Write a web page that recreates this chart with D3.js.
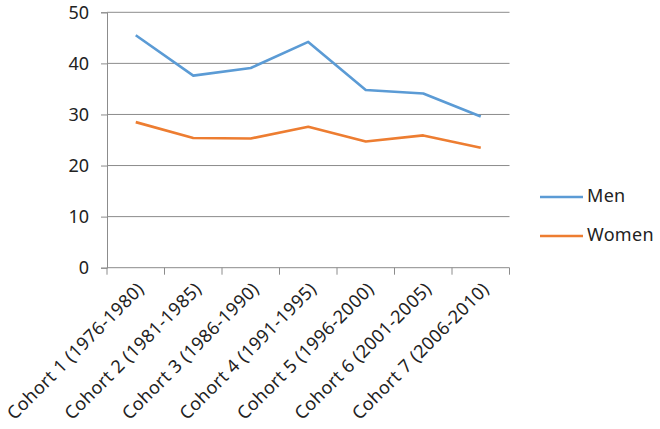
<!DOCTYPE html>
<html>
<head>
<meta charset="utf-8">
<script src="https://cdn.jsdelivr.net/npm/d3@7"></script>
<style>
  body { margin: 0; background: #fff; }
  text { font-family: "Noto Sans", "Open Sans", sans-serif; fill: #222; }
</style>
</head>
<body>
<svg id="chart" width="660" height="429"></svg>
<script>
// data
var cohorts = ["Cohort 1 (1976-1980)", "Cohort 2 (1981-1985)", "Cohort 3 (1986-1990)",
               "Cohort 4 (1991-1995)", "Cohort 5 (1996-2000)", "Cohort 6 (2001-2005)",
               "Cohort 7 (2006-2010)"];
var men   = [45.5, 37.6, 39.1, 44.2, 34.8, 34.1, 29.6];
var women = [28.5, 25.4, 25.3, 27.6, 24.7, 25.9, 23.5];
var yTicks = [0, 10, 20, 30, 40, 50];
var seriesNames = ["Men", "Women"];
var colors = ["#5B9BD5", "#ED7D31"];

var ctx = { left: 107, right: 509.5, top: 12.3, bottom: 267.7 };
var svg = d3.select("#chart");

var x = d3.scaleBand().domain(cohorts).range([ctx.left, ctx.right]);
var y = d3.scaleLinear().domain([0, 50]).range([ctx.bottom, ctx.top]);

// gridlines
svg.append("g").selectAll("line")
  .data(yTicks.filter(d => d > 0))
  .enter().append("line")
  .attr("x1", ctx.left).attr("x2", ctx.right)
  .attr("y1", d => y(d)).attr("y2", d => y(d))
  .attr("stroke", "#8c8c8c").attr("stroke-width", 1);

// y axis
var yAxis = svg.append("g")
  .attr("transform", "translate(" + ctx.left + ",0)")
  .call(d3.axisLeft(y).tickValues(yTicks).tickSize(6).tickPadding(12));
yAxis.select(".domain").attr("stroke", "#8c8c8c");
yAxis.selectAll(".tick line").attr("stroke", "#8c8c8c");
yAxis.selectAll("text").style("font-size", "18px").attr("fill", "#222");

// x axis: ticks at band edges
var xAxisG = svg.append("g");
xAxisG.append("line")
  .attr("x1", ctx.left).attr("x2", ctx.right)
  .attr("y1", ctx.bottom).attr("y2", ctx.bottom)
  .attr("stroke", "#8c8c8c");
var edges = cohorts.map(c => x(c)).concat([x(cohorts[cohorts.length - 1]) + x.bandwidth()]);
xAxisG.selectAll("line.tk").data(edges).enter().append("line").classed("tk", true)
  .attr("x1", d => d).attr("x2", d => d)
  .attr("y1", ctx.bottom).attr("y2", ctx.bottom + 7)
  .attr("stroke", "#8c8c8c");

xAxisG.selectAll("text").data(cohorts).enter().append("text")
  .attr("transform", d => "translate(" + (x(d) + x.bandwidth() / 2 + 6) + "," + (ctx.bottom + 19) + ") rotate(-45)")
  .attr("text-anchor", "end")
  .attr("dominant-baseline", "middle")
  .style("font-size", "18px")
  .style("letter-spacing", "0.4px")
  .text(d => d);

// lines
var line = d3.line()
  .x((d, i) => x(cohorts[i]) + x.bandwidth() / 2)
  .y(d => y(d));

[men, women].forEach(function(vals, i) {
  svg.append("path")
    .datum(vals)
    .attr("d", line)
    .attr("fill", "none")
    .attr("stroke", colors[i])
    .attr("stroke-width", 2.6)
    .attr("stroke-linejoin", "round");
});

// legend
var legend = svg.append("g").attr("transform", "translate(540,197)");
seriesNames.forEach(function(name, i) {
  legend.append("line")
    .attr("x1", 0).attr("x2", 43)
    .attr("y1", i * 39).attr("y2", i * 39)
    .attr("stroke", colors[i]).attr("stroke-width", 2.6);
  legend.append("text")
    .attr("x", 47).attr("y", i * 39)
    .attr("dominant-baseline", "middle")
    .style("font-size", "18px")
    .style("letter-spacing", "0.3px")
    .text(name);
});
</script>
</body>
</html>
